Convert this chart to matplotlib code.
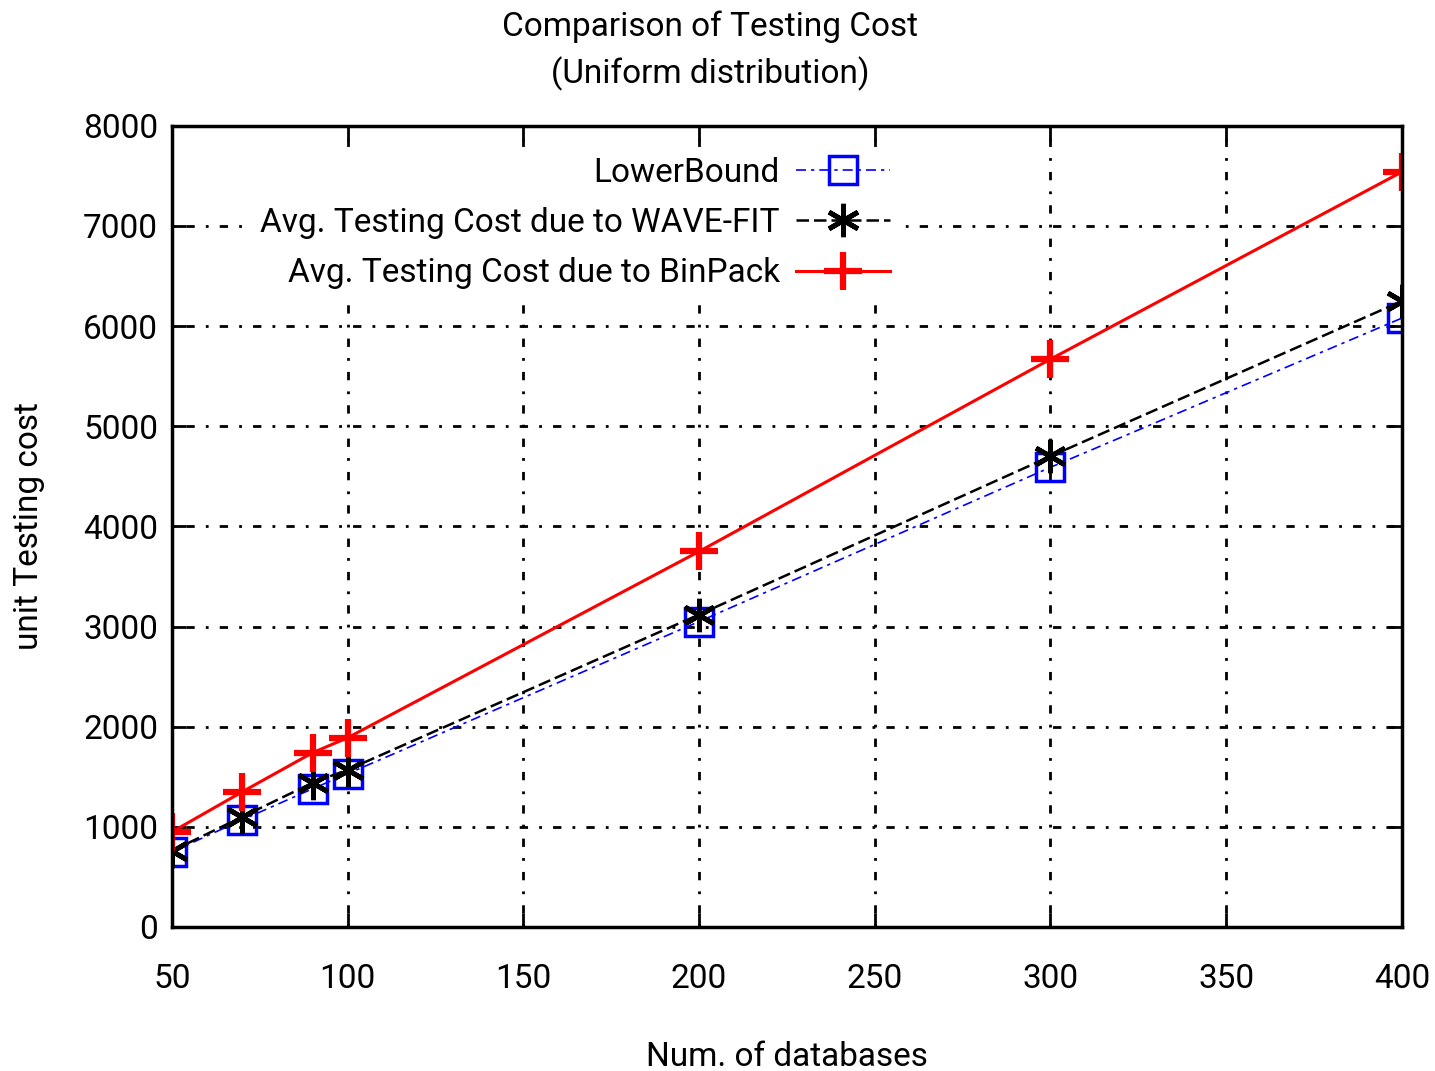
import matplotlib.pyplot as plt
import numpy as np

# Data
num_databases = [50, 70, 90, 100, 200, 300, 400]
lower_bound = [750, 1070, 1380, 1530, 3050, 4590, 6080]
wave_fit = [760, 1100, 1440, 1570, 3120, 4700, 6250]
binpack = [950, 1350, 1740, 1890, 3750, 5670, 7540]

x_ticks = [50, 100, 150, 200, 250, 300, 350, 400]
y_ticks = [0, 1000, 2000, 3000, 4000, 5000, 6000, 7000, 8000]

plt.rcParams['font.family'] = ['Roboto', 'DejaVu Sans']

fig = plt.figure(figsize=(14.35, 10.71), dpi=100)
ax = fig.add_axes([0.1199, 0.1345, 0.857, 0.748])

ax.plot(num_databases, lower_bound, color='blue', linestyle=(0, (6, 3, 2, 3)), linewidth=1.2,
        marker='s', markersize=20, markerfacecolor='none', markeredgecolor='blue',
        markeredgewidth=2.5, label='LowerBound')
ax.plot(num_databases, wave_fit, color='black', linestyle=(0, (5, 2)), linewidth=1.8,
        marker=(6, 2, 0), markersize=24, markeredgewidth=3.5,
        label='Avg. Testing Cost due to WAVE-FIT')
ax.plot(num_databases, binpack, color='red', linestyle='-', linewidth=2.2,
        marker='+', markersize=28, markeredgewidth=4.5,
        label='Avg. Testing Cost due to BinPack')

ax.set_xlim(50, 400)
ax.set_ylim(0, 8000)
ax.set_xticks(x_ticks)
ax.set_yticks(y_ticks)
ax.tick_params(direction='in', top=True, right=True, length=10, width=2, labelsize=24)
ax.tick_params(axis='x', pad=26)
ax.tick_params(axis='y', pad=10)
for s in ax.spines.values():
    s.set_linewidth(2.5)

ax.grid(True, color='black', linestyle=(0, (1, 4, 3, 4)), linewidth=2)

ax.set_xlabel('Num. of databases', fontsize=24)
ax.xaxis.set_label_coords(0.5, -0.142)
ax.set_ylabel('unit Testing cost', fontsize=24)
ax.yaxis.set_label_coords(-0.103, 0.5)
fig.text(0.495, 0.99, 'Comparison of Testing Cost\n(Uniform distribution)', fontsize=24,
         ha='center', va='top', linespacing=1.5)

leg = ax.legend(loc='upper left', bbox_to_anchor=(0.05, 0.995), markerfirst=False,
                alignment='right', fontsize=24, handlelength=2.8, frameon=True,
                edgecolor='white', framealpha=1, borderpad=0.3, labelspacing=0.55,
                handletextpad=0.5)
leg.get_frame().set_linewidth(0)
for t in leg.get_texts():
    t.set_ha('right')

fig.savefig('out.png', dpi=100)
